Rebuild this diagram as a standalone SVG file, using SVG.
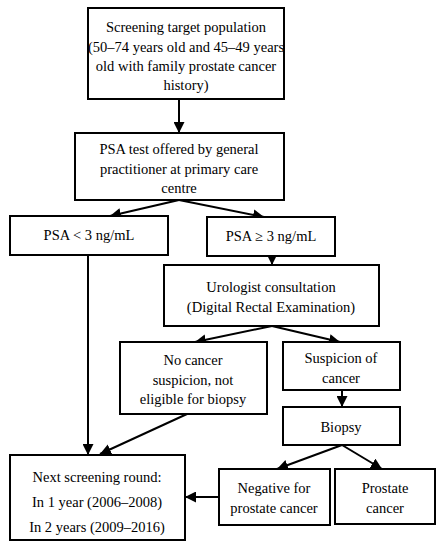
<svg xmlns="http://www.w3.org/2000/svg" width="445" height="550" viewBox="0 0 445 550">
<style>
.b{fill:#fff;stroke:#000;stroke-width:2}
text{font-family:"Liberation Serif","Times New Roman",serif;font-size:14.5px;fill:#000;text-anchor:middle}
.c{stroke:#000;stroke-width:2;fill:none;marker-end:url(#a)}
</style>
<defs>
<marker id="a" viewBox="0 0 10 10" refX="10" refY="5" markerWidth="5.5" markerHeight="5.5" orient="auto" markerUnits="strokeWidth">
<path d="M0,0L10,5L0,10z" fill="#000"/>
</marker>
</defs>
<rect width="445" height="550" fill="#fff"/>
<g id="connectors">
<line class="c" x1="179" y1="99" x2="179" y2="133"/>
<line class="c" x1="179" y1="200" x2="110" y2="216"/>
<line class="c" x1="179" y1="200" x2="264" y2="217"/>
<line class="c" x1="272" y1="256" x2="272" y2="265"/>
<line class="c" x1="272" y1="326" x2="195" y2="342"/>
<line class="c" x1="272" y1="326" x2="340" y2="342"/>
<line class="c" x1="342" y1="390" x2="342" y2="407"/>
<line class="c" x1="342" y1="445" x2="277" y2="469"/>
<line class="c" x1="342" y1="445" x2="382" y2="469"/>
<line class="c" x1="88" y1="255" x2="88" y2="455"/>
<line class="c" x1="187" y1="414" x2="100" y2="454"/>
<line class="c" x1="219" y1="497" x2="185" y2="497"/>
</g>
<g id="n1"><rect class="b" x="88" y="8" width="196" height="91"/>
<text x="186" y="32">Screening target population</text>
<text x="186" y="52">(50–74 years old and 45–49 years</text>
<text x="186" y="71">old with family prostate cancer</text>
<text x="186" y="90">history)</text></g>
<g id="n2"><rect class="b" x="75" y="133" width="209" height="67"/>
<text x="179" y="154">PSA test offered by general</text>
<text x="179" y="174">practitioner at primary care</text>
<text x="179" y="193">centre</text></g>
<g id="n3"><rect class="b" x="10" y="216" width="158" height="39"/>
<text x="89" y="240">PSA &lt; 3 ng/mL</text></g>
<g id="n4"><rect class="b" x="207" y="217" width="128" height="39"/>
<text x="271" y="241">PSA ≥ 3 ng/mL</text></g>
<g id="n5"><rect class="b" x="164" y="265" width="215" height="61"/>
<text x="271" y="292">Urologist consultation</text>
<text x="271" y="312">(Digital Rectal Examination)</text></g>
<g id="n6"><rect class="b" x="120" y="342" width="147" height="72"/>
<text x="193" y="365">No cancer</text>
<text x="193" y="385">suspicion, not</text>
<text x="193" y="404">eligible for biopsy</text></g>
<g id="n7"><rect class="b" x="283" y="342" width="117" height="48"/>
<text x="341" y="363">Suspicion of</text>
<text x="341" y="383">cancer</text></g>
<g id="n8"><rect class="b" x="283" y="407" width="117" height="38"/>
<text x="341" y="432">Biopsy</text></g>
<g id="n9"><rect class="b" x="219" y="469" width="111" height="56"/>
<text x="274" y="493">Negative for</text>
<text x="274" y="513">prostate cancer</text></g>
<g id="n10"><rect class="b" x="335" y="469" width="100" height="55"/>
<text x="385" y="493">Prostate</text>
<text x="385" y="513">cancer</text></g>
<g id="n11"><rect class="b" x="10" y="455" width="175" height="85"/>
<text x="97" y="482">Next screening round:</text>
<text x="97" y="507">In 1 year (2006–2008)</text>
<text x="97" y="532">In 2 years (2009–2016)</text></g>
</svg>
